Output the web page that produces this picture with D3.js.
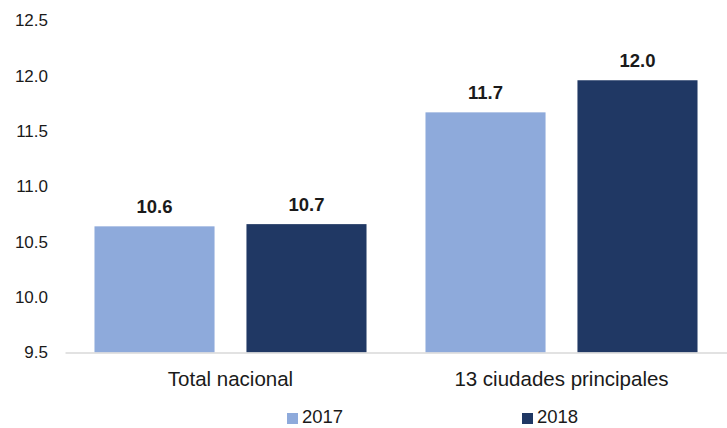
<!DOCTYPE html>
<html>
<head>
<meta charset="utf-8">
<script src="https://cdn.jsdelivr.net/npm/d3@7"></script>
<style>
  body { margin: 0; background: #fff; }
  text { font-family: "Liberation Sans", Arial, sans-serif; fill: #1a1a1a; }
</style>
</head>
<body>
<svg id="body" width="727" height="428"></svg>
<script>
let categories = ["Total nacional", "13 ciudades principales"];
let series = ["2017", "2018"];
let values2017 = [10.64, 11.67];
let values2018 = [10.66, 11.96];
let yTicks = [9.5, 10.0, 10.5, 11.0, 11.5, 12.0, 12.5];
let colores = ["#8eaadb", "#203864"];

let svg = d3.select("#body");

let rows = [];
categories.forEach((c, i) => {
    rows.push({ cat: c, serie: "2017", value: values2017[i] });
    rows.push({ cat: c, serie: "2018", value: values2018[i] });
});

let catScale = d3.scaleBand()
    .domain(categories)
    .range([65, 727]);

let serieScale = d3.scaleBand()
    .domain(series)
    .range([0, catScale.bandwidth()])
    .paddingInner(0.21)
    .paddingOuter(0.194);

let yScale = d3.scaleLinear()
    .domain([9.5, 12.5])
    .range([352.5, 20.5]);

let colorScale = d3.scaleOrdinal()
    .domain(series)
    .range(colores);

// eje y, sin linea
let yAxis = d3.axisLeft(yScale)
    .tickValues(yTicks)
    .tickFormat(d3.format(".1f"))
    .tickSize(0)
    .tickPadding(0);

svg.append("g")
    .attr("id", "yAxis")
    .attr("transform", "translate(48, 0)")
    .call(yAxis)
    .call(g => g.select(".domain").remove())
    .selectAll("text")
    .style("font-size", "17px")
    .style("font-family", "'Liberation Sans', Arial, sans-serif")
    .attr("fill", "#1a1a1a");

// barras
svg.append("g")
    .selectAll("rect")
    .data(rows)
    .enter()
    .append("rect")
    .attr("x", d => catScale(d.cat) + serieScale(d.serie))
    .attr("y", d => yScale(d.value))
    .attr("width", serieScale.bandwidth())
    .attr("height", d => yScale(9.5) - yScale(d.value))
    .style("fill", d => colorScale(d.serie));

// etiquetas de valor
svg.append("g")
    .selectAll("text")
    .data(rows)
    .enter()
    .append("text")
    .attr("x", d => catScale(d.cat) + serieScale(d.serie) + serieScale.bandwidth() / 2)
    .attr("y", d => yScale(d.value) - 13)
    .attr("text-anchor", "middle")
    .style("font-size", "18.5px")
    .style("font-weight", "bold")
    .text(d => d3.format(".1f")(d.value));

// eje x
let xAxis = d3.axisBottom(catScale)
    .tickSize(0)
    .tickPadding(19);

svg.append("g")
    .attr("id", "xAxis")
    .attr("transform", "translate(0, 352.5)")
    .call(xAxis)
    .call(g => g.select(".domain").attr("stroke", "#d9d9d9").attr("stroke-width", 1.5))
    .selectAll("text")
    .style("font-size", "20.5px")
    .style("font-family", "'Liberation Sans', Arial, sans-serif")
    .attr("fill", "#1a1a1a")
    .attr("dy", "0.71em");

// leyenda
let legendX = d3.scaleOrdinal()
    .domain(series)
    .range([287, 522]);

let legend = svg.append("g")
    .selectAll("g")
    .data(series)
    .enter()
    .append("g")
    .attr("transform", d => "translate(" + legendX(d) + ", 417)");

legend.append("rect")
    .attr("x", 0)
    .attr("y", -4)
    .attr("width", 11)
    .attr("height", 11)
    .style("fill", d => colorScale(d));

legend.append("text")
    .attr("x", 15)
    .attr("y", 6)
    .style("font-size", "18.5px")
    .text(d => d);
</script>
</body>
</html>
